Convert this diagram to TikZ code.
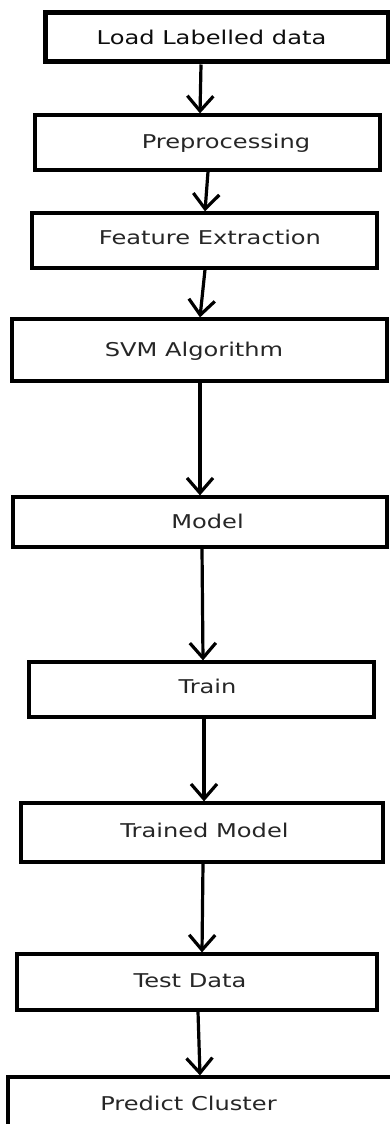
\documentclass[tikz,border=0pt]{standalone}
\usepackage{fontspec}
\setmainfont{DejaVu Sans}[FakeStretch=1.27]
\usetikzlibrary{arrows.meta}
\tikzset{
  box/.style={draw=black, line width=3.2pt, rectangle, inner sep=0pt, fill=white},
  lbl/.style={anchor=base, inner sep=0pt, text=black!85, font=\fontsize{19}{22}\selectfont},
  arr/.style={line width=3.2pt, -{Straight Barb[length=15pt,width=26pt]}}
}
\begin{document}
\begin{tikzpicture}[x=1pt,y=-1pt]
\useasboundingbox (0,0) rectangle (389,1124);
\node[box, line width=5pt, minimum width=343pt, minimum height=49pt] (b1) at (216.5,37.5) {};
\node[box, minimum width=345pt, minimum height=55pt] (b2) at (207.5,142.5) {};
\node[box, minimum width=345pt, minimum height=55pt] (b3) at (204.5,240.5) {};
\node[box, minimum width=375pt, minimum height=62pt] (b4) at (199.5,350) {};
\node[box, minimum width=374pt, minimum height=50pt] (b5) at (200,522) {};
\node[box, minimum width=345pt, minimum height=55pt] (b6) at (201.5,689.5) {};
\node[box, minimum width=362pt, minimum height=59pt] (b7) at (202,832.5) {};
\node[box, minimum width=360pt, minimum height=56pt] (b8) at (197,982) {};
\node[box, minimum width=392pt, minimum height=63pt] (b9) at (204,1108.5) {};

\node[lbl, text=black!95] (t1) at (211.5,45) {Load Labelled data};
\node[lbl] (t2) at (226,148) {Preprocessing};
\node[lbl] (t3) at (210,244) {Feature Extraction};
\node[lbl] (t4) at (194,356) {SVM Algorithm};
\node[lbl] (t5) at (207.5,528) {Model};
\node[lbl] (t6) at (207.5,693) {Train};
\node[lbl] (t7) at (204.5,837) {Trained Model};
\node[lbl] (t8) at (190,987) {Test Data};
\node[lbl] (t9) at (188.5,1110) {Predict Cluster};

\draw[arr] ([xshift=-15.5pt]b1.south) -- ([xshift=-7.5pt]b2.north);
\draw[arr] ([xshift=0.5pt]b2.south) -- ([xshift=0.5pt]b3.north);
\draw[arr] ([xshift=0.5pt]b3.south) -- ([xshift=0.5pt]b4.north);
\draw[arr] ([xshift=0.5pt]b4.south) -- (b5.north);
\draw[arr] ([xshift=2pt]b5.south) -- ([xshift=1.5pt]b6.north);
\draw[arr] ([xshift=2.5pt]b6.south) -- ([xshift=2pt]b7.north);
\draw[arr] ([xshift=1pt]b7.south) -- ([xshift=5pt]b8.north);
\draw[arr] ([xshift=1pt]b8.south) -- ([xshift=-4pt]b9.north);
\end{tikzpicture}
\end{document}
